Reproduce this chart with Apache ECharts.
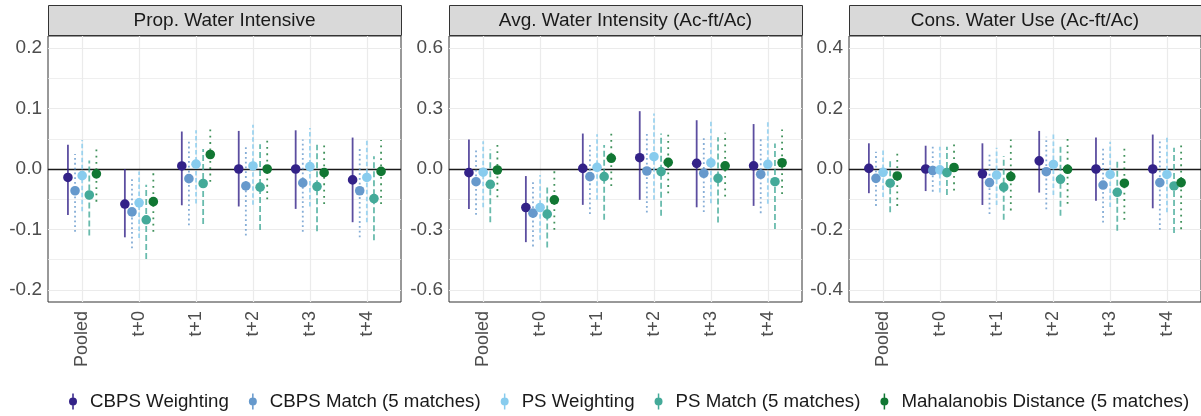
<!DOCTYPE html>
<html>
<head>
<meta charset="utf-8">
<script src="https://cdn.jsdelivr.net/npm/echarts@6/dist/echarts.min.js"></script>
<style>
  html, body { margin: 0; padding: 0; background: #fff; }
  #chart { width: 1201px; height: 416px; }
</style>
</head>
<body>
<div id="chart"></div>
<script>
const categories = ['Pooled', 't+0', 't+1', 't+2', 't+3', 't+4'];
const methods = ['CBPS Weighting', 'CBPS Match (5 matches)', 'PS Weighting', 'PS Match (5 matches)', 'Mahalanobis Distance (5 matches)'];
const panelTitles = ['Prop. Water Intensive', 'Avg. Water Intensity (Ac-ft/Ac)', 'Cons. Water Use (Ac-ft/Ac)'];

// tick labels per panel
const yTicks = [[-0.2, -0.1, 0, 0.1, 0.2], [-0.6, -0.3, 0, 0.3, 0.6], [-0.4, -0.2, 0, 0.2, 0.4]];
const yMinor = [[-0.15, -0.05, 0.05, 0.15], [-0.45, -0.15, 0.15, 0.45], [-0.3, -0.1, 0.1, 0.3]];
const yLimit = [0.22, 0.66, 0.44];

// Prop. Water Intensive: rows = methods, cols = categories
const pwiEst = [
  [-0.014, -0.058, 0.005, 0.000, 0.000, -0.018],
  [-0.036, -0.071, -0.016, -0.028, -0.023, -0.036],
  [-0.011, -0.056, 0.008, 0.005, 0.004, -0.014],
  [-0.043, -0.084, -0.024, -0.030, -0.029, -0.049],
  [-0.008, -0.054, 0.024, 0.000, -0.006, -0.004]
];
const pwiLo = [
  [-0.076, -0.113, -0.060, -0.062, -0.066, -0.088],
  [-0.104, -0.131, -0.093, -0.110, -0.104, -0.113],
  [-0.070, -0.114, -0.057, -0.059, -0.062, -0.088],
  [-0.110, -0.149, -0.091, -0.101, -0.103, -0.118],
  [-0.054, -0.104, -0.021, -0.050, -0.058, -0.058]
];
const pwiHi = [
  [0.040, 0.000, 0.062, 0.063, 0.064, 0.052],
  [0.025, -0.013, 0.045, 0.037, 0.049, 0.035],
  [0.048, -0.004, 0.064, 0.073, 0.068, 0.048],
  [0.014, -0.026, 0.033, 0.041, 0.040, 0.021],
  [0.037, -0.005, 0.070, 0.048, 0.045, 0.048]
];

// Avg. Water Intensity
const awiEst = [
  [-0.018, -0.191, 0.003, 0.056, 0.028, 0.016],
  [-0.063, -0.219, -0.038, -0.010, -0.021, -0.026],
  [-0.016, -0.191, 0.008, 0.061, 0.031, 0.023],
  [-0.076, -0.224, -0.038, -0.013, -0.046, -0.063],
  [-0.005, -0.153, 0.053, 0.033, 0.016, 0.031]
];
const awiLo = [
  [-0.199, -0.363, -0.178, -0.153, -0.190, -0.183],
  [-0.227, -0.384, -0.223, -0.216, -0.214, -0.219],
  [-0.190, -0.351, -0.153, -0.153, -0.170, -0.173],
  [-0.264, -0.389, -0.252, -0.232, -0.265, -0.298],
  [-0.140, -0.302, -0.084, -0.120, -0.137, -0.124]
];
const awiHi = [
  [0.147, -0.035, 0.176, 0.287, 0.242, 0.223],
  [0.097, -0.063, 0.127, 0.185, 0.163, 0.163],
  [0.138, -0.030, 0.173, 0.275, 0.247, 0.234],
  [0.097, -0.079, 0.119, 0.176, 0.157, 0.127],
  [0.127, -0.005, 0.180, 0.176, 0.180, 0.196]
];

// Cons. Water Use
const cwuEst = [
  [0.002, 0.000, -0.016, 0.027, 0.000, 0.000],
  [-0.031, -0.005, -0.045, -0.009, -0.053, -0.045],
  [-0.011, -0.003, -0.020, 0.015, -0.018, -0.018],
  [-0.047, -0.012, -0.060, -0.034, -0.077, -0.056],
  [-0.023, 0.005, -0.025, -0.001, -0.047, -0.045]
];
const cwuLo = [
  [-0.080, -0.073, -0.119, -0.078, -0.105, -0.130],
  [-0.122, -0.075, -0.149, -0.133, -0.177, -0.201],
  [-0.093, -0.078, -0.119, -0.086, -0.126, -0.143],
  [-0.143, -0.086, -0.168, -0.155, -0.204, -0.212],
  [-0.122, -0.071, -0.137, -0.115, -0.168, -0.199]
];
const cwuHi = [
  [0.085, 0.077, 0.085, 0.126, 0.104, 0.114],
  [0.057, 0.082, 0.049, 0.107, 0.074, 0.101],
  [0.068, 0.074, 0.070, 0.118, 0.090, 0.104],
  [0.027, 0.074, 0.043, 0.077, 0.032, 0.070],
  [0.057, 0.085, 0.098, 0.101, 0.068, 0.090]
];

const panels = [
  {est: pwiEst, lo: pwiLo, hi: pwiHi},
  {est: awiEst, lo: awiLo, hi: awiHi},
  {est: cwuEst, lo: cwuLo, hi: cwuHi}
];

const colors = ['#332288', '#6699CC', '#88CCEE', '#44AA99', '#117733'];
const dashes = [null, [1.8, 3], [4.5, 2.5], [6, 3], [1.8, 4.5]];
const dodge = [-0.25, -0.125, 0, 0.125, 0.25];

const FONT = '"Liberation Sans", Arial, sans-serif';
const panelLeft = [48, 449, 849];
const panelWidth = [353, 353, 352];
const panelTop = 36;
const panelHeight = 266;

const chart = echarts.init(document.getElementById('chart'));

function pointRange(m) {
  return function (params, api) {
    const x = api.value(0) + dodge[m];
    const p = api.coord([x, api.value(1)]);
    const lo = api.coord([x, api.value(2)]);
    const hi = api.coord([x, api.value(3)]);
    const color = api.visual('color');
    return {
      type: 'group',
      children: [
        {
          type: 'line',
          shape: {x1: p[0], y1: lo[1], x2: p[0], y2: hi[1]},
          style: {stroke: color, lineWidth: 1.8, lineDash: dashes[m], opacity: 0.8}
        },
        {
          type: 'circle',
          shape: {cx: p[0], cy: p[1], r: 4.8},
          style: {fill: color}
        }
      ]
    };
  };
}

const grids = [], xAxes = [], yAxes = [], series = [], graphics = [];

panels.forEach((panel, p) => {
  grids.push({
    left: panelLeft[p], top: panelTop, width: panelWidth[p], height: panelHeight,
    show: true, borderColor: '#333', borderWidth: 1, backgroundColor: '#fff'
  });
  xAxes.push({
    type: 'value', gridIndex: p, min: -0.6, max: 5.6,
    axisLine: {show: false},
    axisTick: {show: true, length: 4, lineStyle: {color: '#333'}, customValues: [0, 1, 2, 3, 4, 5]},
    axisLabel: {
      customValues: [0, 1, 2, 3, 4, 5], rotate: 90, margin: 9,
      color: '#4D4D4D', fontSize: 18, fontFamily: FONT,
      formatter: v => categories[Math.round(v)]
    },
    splitLine: {show: false}
  });
  yAxes.push({
    type: 'value', gridIndex: p, min: -yLimit[p], max: yLimit[p],
    axisLine: {show: false},
    axisTick: {show: true, length: 4, lineStyle: {color: '#333'}, customValues: yTicks[p]},
    axisLabel: {
      customValues: yTicks[p], margin: 6,
      color: '#4D4D4D', fontSize: 19, fontFamily: FONT,
      formatter: v => v.toFixed(1)
    },
    splitLine: {show: false}
  });

  // panel grid lines
  series.push({
    type: 'line', name: 'grid' + p, xAxisIndex: p, yAxisIndex: p, data: [], z: 1, silent: true,
    markLine: {
      silent: true, symbol: 'none', animation: false, label: {show: false}, z: 1,
      data: [
        ...yMinor[p].map(v => ({yAxis: v, lineStyle: {color: '#EBEBEB', width: 0.8, type: 'solid'}})),
        ...yTicks[p].map(v => ({yAxis: v, lineStyle: {color: '#EBEBEB', width: 1.2, type: 'solid'}})),
        ...categories.map((c, i) => ({xAxis: i, lineStyle: {color: '#EBEBEB', width: 1.2, type: 'solid'}}))
      ]
    }
  });
  // zero line
  series.push({
    type: 'line', name: 'zero' + p, xAxisIndex: p, yAxisIndex: p, data: [], z: 1.5, silent: true,
    markLine: {
      silent: true, symbol: 'none', animation: false, label: {show: false}, z: 1.5,
      data: [{yAxis: 0, lineStyle: {color: '#1a1a1a', width: 1.4, type: 'solid'}}]
    }
  });

  methods.forEach((name, m) => {
    series.push({
      type: 'custom', name: name, xAxisIndex: p, yAxisIndex: p, z: 3,
      itemStyle: {color: colors[m]},
      encode: {x: 0, y: 1},
      renderItem: pointRange(m),
      data: categories.map((c, i) => [i, panel.est[m][i], panel.lo[m][i], panel.hi[m][i]])
    });
  });

  // facet strip
  graphics.push({
    type: 'rect',
    shape: {x: panelLeft[p] + 0.5, y: 5.5, width: panelWidth[p], height: 30},
    style: {fill: '#D9D9D9', stroke: '#333', lineWidth: 1}
  });
  graphics.push({
    type: 'text',
    x: panelLeft[p] + panelWidth[p] / 2, y: 21,
    style: {
      text: panelTitles[p], fill: '#1A1A1A', font: '19px ' + FONT,
      textAlign: 'center', textVerticalAlign: 'middle'
    }
  });
});

const legendIcon = 'path://M3.25,0 h1.5 v16 h-1.5 z M0,8 a4,4 0 1,1 8,0 a4,4 0 1,1 -8,0 z';

chart.setOption({
  animation: false,
  backgroundColor: '#fff',
  grid: grids,
  xAxis: xAxes,
  yAxis: yAxes,
  graphic: graphics,
  legend: {
    data: methods.map(n => ({name: n, icon: legendIcon})),
    left: 64, top: 387,
    itemWidth: 8, itemHeight: 17, itemGap: 20,
    textStyle: {fontSize: 18.7, color: '#1A1A1A', fontFamily: FONT, padding: [0, 0, 0, 8]},
    selectedMode: false
  },
  series: series
});
</script>
</body>
</html>
